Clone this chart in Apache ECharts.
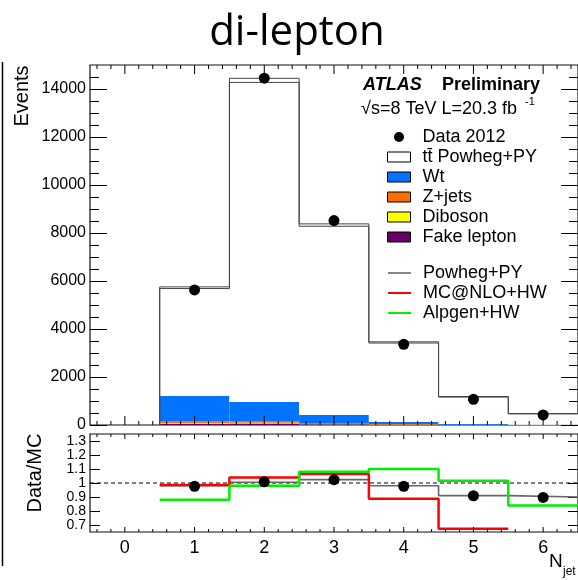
<!DOCTYPE html>
<html>
<head>
<meta charset="utf-8">
<script src="https://cdn.jsdelivr.net/npm/echarts@6/dist/echarts.min.js"></script>
<style>
html,body{margin:0;padding:0;background:#fff;}
#chart{width:578px;height:580px;}
</style>
</head>
<body>
<div id="chart"></div>
<script>
// ---- data ----
var bins = [1, 2, 3, 4, 5, 6];
var dataEvents = [5630, 14450, 8520, 3360, 1070, 420];
var mcTotal = [5720, 14360, 8330, 3440, 1175, 470];
var fakeLepton = [55, 60, 30, 15, 5, 2];
var diboson = [25, 30, 15, 8, 3, 1];
var zjets = [70, 75, 35, 15, 5, 2];
var wt = [1058, 793, 337, 87, 27, 8];
var mcUncert = [35, 85, 50, 25, 12, 6];

var ratioData = [0.976, 1.009, 1.024, 0.976, 0.909, 0.897];
var ratioPowheg = [0.98, 1.005, 1.024, 0.98, 0.91, 0.90];
var ratioMcnlo = [0.986, 1.04, 1.064, 0.888, 0.673];
var ratioAlpgen = [0.88, 0.98, 1.08, 1.10, 1.016, 0.84];

var xTickLabels = [0, 1, 2, 3, 4, 5, 6];
var yTickLabels = [0, 2000, 4000, 6000, 8000, 10000, 12000, 14000];
var ratioTickLabels = [0.7, 0.8, 0.9, 1.0, 1.1, 1.2, 1.3];

// ---- helpers ----
var FONT = '"Liberation Sans", Arial, Helvetica, sans-serif';
var xMinor = [];
for (var k = -2; k <= 32; k++) { if (k % 5 !== 0) xMinor.push(Math.round(k * 2) / 10); }
var yMinor = [];
for (var m = 500; m < 15000; m += 500) { if (m % 2000 !== 0) yMinor.push(m); }

// stacked layers
var tt = mcTotal.map(function (t, i) { return t - fakeLepton[i] - diboson[i] - zjets[i] - wt[i]; });
var layers = [
  { name: 'Fake lepton', vals: fakeLepton, color: '#660066' },
  { name: 'Diboson', vals: diboson, color: '#ffff00' },
  { name: 'Z+jets', vals: zjets, color: '#ff6f00' },
  { name: 'Wt', vals: wt, color: '#0073ff' },
  { name: 'tt\u0304 Powheg+PY', vals: tt, color: '#ffffff' }
];
var cum = bins.map(function () { return 0; });
var stackSeries = layers.map(function (L) {
  var d = bins.map(function (b, i) {
    var lo = cum[i]; var hi = lo + L.vals[i]; cum[i] = hi;
    return [b, lo, hi];
  });
  var col = L.color;
  return {
    type: 'custom', name: L.name, xAxisIndex: 0, yAxisIndex: 0,
    itemStyle: { color: col },
    encode: { x: 0, y: [1, 2] },
    clip: true,
    renderItem: function (params, api) {
      var x = api.value(0), y0 = api.value(1), y1 = api.value(2);
      var p0 = api.coord([x - 0.5, y0]);
      var p1 = api.coord([x + 0.5, y1]);
      return { type: 'rect', shape: { x: p0[0], y: p1[1], width: p1[0] - p0[0], height: p0[1] - p1[1] },
        style: { fill: col } };
    },
    data: d, z: 1
  };
});

function stepLine(vals, fromZero) {
  var pts = [];
  if (fromZero) pts.push([bins[0] - 0.5, 0]);
  vals.forEach(function (v, i) { pts.push([bins[i] - 0.5, v]); pts.push([bins[i] + 0.5, v]); });
  return pts;
}
var upper = mcTotal.map(function (t, i) { return t + mcUncert[i]; });
var lower = mcTotal.map(function (t, i) { return t - mcUncert[i]; });

// x-axis tick marks as thin rect symbols sitting on the bottom and top frame edges
function xTickScatter(xi, yi, yLo, yHi, lenMajor, lenMinor) {
  var items = [];
  function add(t, L) {
    items.push({ value: [t, yLo], symbolSize: [1, L], symbolOffset: [0, -L / 2] });
    items.push({ value: [t, yHi], symbolSize: [1, L], symbolOffset: [0, L / 2] });
  }
  xTickLabels.forEach(function (t) { add(t, lenMajor); });
  xMinor.forEach(function (t) { add(t, lenMinor); });
  return {
    type: 'scatter', name: 'xticks' + xi, xAxisIndex: xi, yAxisIndex: yi, silent: true, clip: false,
    symbol: 'rect', itemStyle: { color: '#000', opacity: 1 }, z: 20, data: items
  };
}

function xAxisBase(grid) {
  return {
    type: 'value', gridIndex: grid, position: 'bottom', min: -0.5, max: 6.5,
    axisLine: { show: false, onZero: false }, splitLine: { show: false },
    axisTick: { show: false }, axisLabel: { show: false }
  };
}
function tickAxisY(grid, pos, min, max, vals, len) {
  return {
    type: 'value', gridIndex: grid, position: pos, min: min, max: max,
    axisLine: { show: false, onZero: false }, splitLine: { show: false },
    axisTick: { show: true, inside: true, length: len, customValues: vals, lineStyle: { color: '#000', width: 1 } },
    axisLabel: { show: false }
  };
}

var xAxes = [xAxisBase(0), xAxisBase(1)];
xAxes[1].axisLabel = { show: true, customValues: xTickLabels, fontSize: 18, fontFamily: FONT, color: '#000', margin: 7,
  formatter: function (v) { return String(v); } };

var yAxes = [
  tickAxisY(0, 'left', 0, 15000, yTickLabels, 17),
  tickAxisY(0, 'left', 0, 15000, yMinor, 9),
  tickAxisY(0, 'right', 0, 15000, yTickLabels, 17),
  tickAxisY(0, 'right', 0, 15000, yMinor, 9),
  tickAxisY(1, 'left', 0.65, 1.35, ratioTickLabels, 10),
  tickAxisY(1, 'right', 0.65, 1.35, ratioTickLabels, 10)
];
yAxes[0].axisLabel = { show: true, customValues: yTickLabels, fontSize: 16, fontFamily: FONT, color: '#000', margin: 4,
  formatter: function (v) { return String(v); } };
yAxes[4].axisLabel = { show: true, customValues: ratioTickLabels, fontSize: 14, fontFamily: FONT, color: '#000', margin: 4,
  formatter: function (v) { return String(+(+v).toFixed(2)); } };

var series = stackSeries.concat([
  { type: 'line', name: 'band up', xAxisIndex: 0, yAxisIndex: 0, data: stepLine(upper, true), symbol: 'none',
    lineStyle: { color: '#444', width: 1 }, z: 3, clip: true },
  { type: 'line', name: 'band down', xAxisIndex: 0, yAxisIndex: 0, data: stepLine(lower, true), symbol: 'none',
    lineStyle: { color: '#444', width: 1 }, z: 3, clip: true },
  { type: 'scatter', name: 'Data 2012', xAxisIndex: 0, yAxisIndex: 0,
    data: bins.map(function (b, i) { return [b, dataEvents[i]]; }),
    symbol: 'circle', symbolSize: 11, itemStyle: { color: '#000', opacity: 1 }, z: 5 },
  xTickScatter(0, 0, 0, 15000, 9, 4),
  // ratio panel
  { type: 'line', name: 'unity', xAxisIndex: 1, yAxisIndex: 4, data: [[-0.5, 1], [6.5, 1]], symbol: 'none',
    lineStyle: { color: '#000', width: 1, type: [4, 3] }, z: 2 },
  { type: 'line', name: 'Powheg+PY', xAxisIndex: 1, yAxisIndex: 4, data: stepLine(ratioPowheg, false), symbol: 'none',
    lineStyle: { color: '#666', width: 1.6 }, itemStyle: { color: '#111' }, z: 3 },
  { type: 'line', name: 'MC@NLO+HW', xAxisIndex: 1, yAxisIndex: 4, data: stepLine(ratioMcnlo, false), symbol: 'none',
    lineStyle: { color: '#ff0000', width: 2.5 }, itemStyle: { color: '#ff0000' }, z: 4 },
  { type: 'line', name: 'Alpgen+HW', xAxisIndex: 1, yAxisIndex: 4, data: stepLine(ratioAlpgen, false), symbol: 'none',
    lineStyle: { color: '#00ee00', width: 2.5 }, itemStyle: { color: '#00ee00' }, z: 4 },
  { type: 'scatter', name: 'Data/MC points', xAxisIndex: 1, yAxisIndex: 4,
    data: bins.map(function (b, i) { return [b, ratioData[i]]; }),
    symbol: 'circle', symbolSize: 11, itemStyle: { color: '#000', opacity: 1 }, z: 6 },
  xTickScatter(1, 4, 0.65, 1.35, 5, 3)
]);

var legendText = { fontSize: 18, fontFamily: FONT, color: '#000', lineHeight: 20, padding: [0, 0, 0, 7] };
var option = {
  animation: false,
  backgroundColor: '#fff',
  grid: [
    { left: 90, top: 65, width: 490, height: 360, show: true, borderColor: '#111', borderWidth: 1.2 },
    { left: 90, top: 434, width: 490, height: 98, show: true, borderColor: '#111', borderWidth: 1.2 }
  ],
  xAxis: xAxes,
  yAxis: yAxes,
  legend: [
    { orient: 'vertical', left: 387, top: 127, padding: 0, itemWidth: 23, itemHeight: 10, itemGap: 0, selectedMode: false,
      textStyle: legendText,
      data: [
        { name: 'Data 2012', icon: 'circle', itemStyle: { color: '#000', borderWidth: 0, opacity: 1 } },
        { name: 'tt\u0304 Powheg+PY', icon: 'rect', itemStyle: { color: '#fff', borderColor: '#000', borderWidth: 1 } },
        { name: 'Wt', icon: 'rect', itemStyle: { color: '#0073ff', borderColor: '#000', borderWidth: 1 } },
        { name: 'Z+jets', icon: 'rect', itemStyle: { color: '#ff6f00', borderColor: '#000', borderWidth: 1 } },
        { name: 'Diboson', icon: 'rect', itemStyle: { color: '#ffff00', borderColor: '#000', borderWidth: 1 } },
        { name: 'Fake lepton', icon: 'rect', itemStyle: { color: '#660066', borderColor: '#000', borderWidth: 1 } }
      ] },
    { orient: 'vertical', left: 387, top: 263, padding: 0, itemWidth: 23, itemHeight: 10, itemGap: 0, selectedMode: false,
      textStyle: legendText,
      data: [
        { name: 'Powheg+PY', itemStyle: { opacity: 0 }, lineStyle: { color: '#111', width: 1 } },
        { name: 'MC@NLO+HW', itemStyle: { opacity: 0 }, lineStyle: { color: '#ff0000', width: 2 } },
        { name: 'Alpgen+HW', itemStyle: { opacity: 0 }, lineStyle: { color: '#00ee00', width: 2 } }
      ] }
  ],
  graphic: [
    { type: 'text', x: 297, y: 33, style: { text: 'di-lepton', font: '42px "Open Sans", "Noto Sans", sans-serif', fill: '#000', align: 'center', verticalAlign: 'middle' } },
    { type: 'text', x: 22, y: 96, rotation: Math.PI / 2, style: { text: 'Events', font: '20px ' + FONT, fill: '#000', align: 'center', verticalAlign: 'middle' } },
    { type: 'text', x: 35, y: 473, rotation: Math.PI / 2, style: { text: 'Data/MC', font: '20px ' + FONT, fill: '#000', align: 'center', verticalAlign: 'middle' } },
    { type: 'text', x: 549, y: 562, style: { text: 'N', font: '19px ' + FONT, fill: '#000', align: 'left', verticalAlign: 'middle' } },
    { type: 'text', x: 563, y: 572, style: { text: 'jet', font: '12px ' + FONT, fill: '#000', align: 'left', verticalAlign: 'middle' } },
    { type: 'text', x: 363, y: 85, style: { text: 'ATLAS', font: 'italic bold 18px ' + FONT, fill: '#000', align: 'left', verticalAlign: 'middle' } },
    { type: 'text', x: 442, y: 85, style: { text: 'Preliminary', font: 'bold 18px ' + FONT, fill: '#000', align: 'left', verticalAlign: 'middle' } },
    { type: 'text', x: 361, y: 109, style: { text: '\u221As=8 TeV L=20.3 fb', font: '18px ' + FONT, fill: '#000', align: 'left', verticalAlign: 'middle' } },
    { type: 'text', x: 525, y: 102, style: { text: '-1', font: '11px ' + FONT, fill: '#000', align: 'left', verticalAlign: 'middle' } },
    { type: 'line', shape: { x1: 2.5, y1: 62, x2: 2.5, y2: 566 }, style: { stroke: '#000', lineWidth: 1.5 } }
  ],
  series: series
};
var chart = echarts.init(document.getElementById('chart'), null, { renderer: 'canvas' });
chart.setOption(option);
</script>
</body>
</html>
